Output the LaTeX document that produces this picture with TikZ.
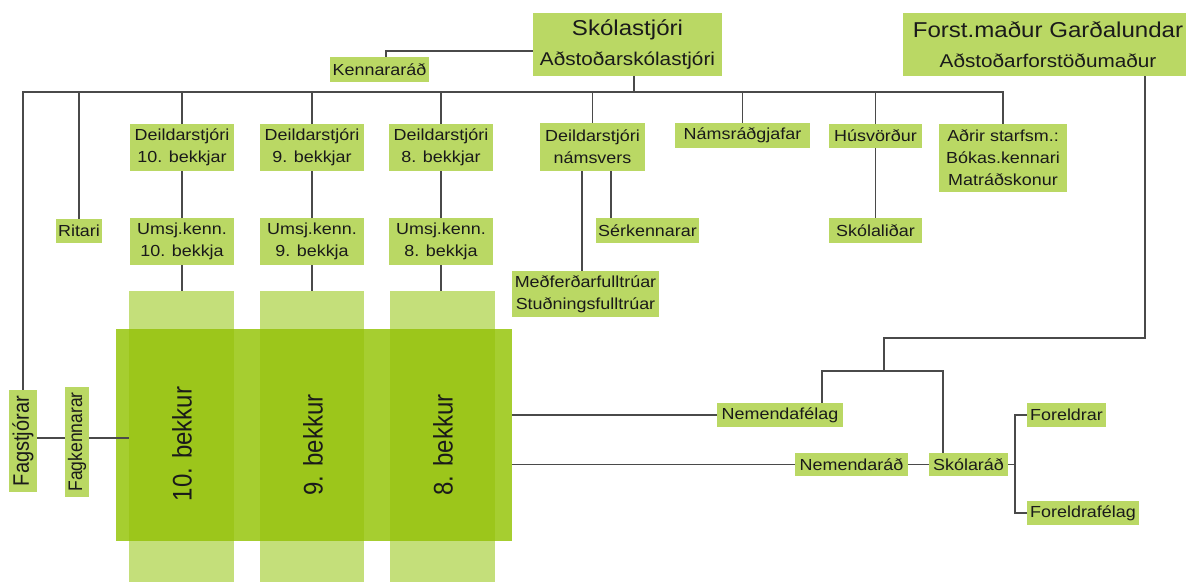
\documentclass[tikz,border=0pt]{standalone}
\usepackage{fontspec}
\setmainfont{Liberation Sans}[FakeStretch=1.12]
\newfontfamily\rotfont{Liberation Sans}
\usetikzlibrary{calc}
\definecolor{boxg}{HTML}{BAD864}
\definecolor{colg}{HTML}{C4DF7A}
\definecolor{darkg}{HTML}{A6CE30}
\definecolor{overg}{HTML}{9CC61B}
\definecolor{lin}{HTML}{4A4A4A}
\definecolor{txt}{HTML}{1A1A1A}
\begin{document}
\begin{tikzpicture}[x=1pt,y=-1pt,
  lbl/.style={fill=boxg, text=txt, inner sep=0pt, align=center, font=\fontsize{16}{22}\selectfont},
  big/.style={lbl, font=\fontsize{18.5}{30}\selectfont},
  rot/.style={fill=boxg, text=txt, inner sep=0pt, rotate=90},
  colbox/.style={fill=colg, inner sep=0pt, minimum width=105pt, minimum height=304pt},
  conn/.style={draw=lin, line width=1.6pt},
  grade/.style={text=txt, rotate=90, inner sep=0pt, font=\rotfont\fontsize{24}{24}\selectfont}]
\useasboundingbox (0,0) rectangle (1186,581);
\fill[white] (0,0) rectangle (1186,581);

% columns and grade block
\node[colbox] (col10) at (181.5,443) {};
\node[colbox, minimum width=104pt] (col9) at (312,443) {};
\node[colbox] (col8) at (442.5,443) {};
\node[fill=darkg, inner sep=0pt, minimum width=396pt, minimum height=212pt] (dark) at (314,435) {};
\foreach \c in {col10,col9,col8}
  \fill[overg] (\c.west |- dark.north) rectangle (\c.east |- dark.south);
\node[grade] (t10) at (182,444) {\scalebox{1}[1.12]{10. bekkur}};
\node[grade] (t9) at (313,445) {\scalebox{1}[1.12]{9. bekkur}};
\node[grade] (t8) at (443,445) {\scalebox{1}[1.12]{8. bekkur}};

% top
\node[big, minimum width=189pt, minimum height=63pt] (sk) at (627.5,44.5)
  {{\fontsize{21.5}{30}\selectfont Skólastjóri}\\Aðstoðarskólastjóri};
\node[big, minimum width=290pt, minimum height=63pt] (forst) at (1048,44.5)
  {{\fontsize{21.5}{30}\selectfont Forst.maður Garðalundar}\\Aðstoðarforstöðumaður};
\node[lbl, minimum width=99pt, minimum height=25pt] (kenn) at (379.5,69.5) {Kennararáð};

% second row
\node[lbl, minimum width=104pt, minimum height=47pt] (d10) at (182,147.5) {Deildarstjóri\\10. bekkjar};
\node[lbl, minimum width=104pt, minimum height=47pt] (d9) at (312,147.5) {Deildarstjóri\\9. bekkjar};
\node[lbl, minimum width=104pt, minimum height=47pt] (d8) at (441,147.5) {Deildarstjóri\\8. bekkjar};
\node[lbl, minimum width=105pt, minimum height=48pt] (dn) at (592.5,147) {Deildarstjóri\\námsvers};
\node[lbl, minimum width=135pt, minimum height=25pt] (nams) at (742.5,135.5) {Námsráðgjafar};
\node[lbl, minimum width=93pt, minimum height=24pt] (hus) at (875.5,136) {Húsvörður};
\node[lbl, minimum width=128pt, minimum height=68pt] (adrir) at (1003,158) {Aðrir starfsm.:\\Bókas.kennari\\Matráðskonur};

% third row
\node[lbl, minimum width=46pt, minimum height=24pt] (ritari) at (79,231) {Ritari};
\node[lbl, minimum width=104pt, minimum height=47pt] (u10) at (182,241.5) {Umsj.kenn.\\10. bekkja};
\node[lbl, minimum width=104pt, minimum height=47pt] (u9) at (312,241.5) {Umsj.kenn.\\9. bekkja};
\node[lbl, minimum width=104pt, minimum height=47pt] (u8) at (441,241.5) {Umsj.kenn.\\8. bekkja};
\node[lbl, minimum width=103pt, minimum height=25pt] (serk) at (647.5,230.5) {Sérkennarar};
\node[lbl, minimum width=93pt, minimum height=25pt] (skolal) at (875.5,230.5) {Skólaliðar};
\node[lbl, minimum width=147pt, minimum height=46pt] (medf) at (585.5,294) {Meðferðarfulltrúar\\Stuðningsfulltrúar};

% left rotated
\node[rot, minimum width=102pt, minimum height=28pt, font=\rotfont\fontsize{20}{20}\selectfont] (fagstj) at (23,441) {\scalebox{1}[1.12]{Fagstjórar}};
\node[rot, minimum width=110pt, minimum height=24pt, font=\rotfont\fontsize{17.5}{17.5}\selectfont] (fagk) at (77,442) {\scalebox{1}[1.12]{Fagkennarar}};

% right bottom
\node[lbl, minimum width=126pt, minimum height=24pt] (nemfel) at (780,415) {Nemendafélag};
\node[lbl, minimum width=113pt, minimum height=23pt] (nemrad) at (851.5,464.5) {Nemendaráð};
\node[lbl, minimum width=79pt, minimum height=23pt] (skolarad) at (968.5,464.5) {Skólaráð};
\node[lbl, minimum width=79pt, minimum height=24pt] (foreldrar) at (1066.5,415) {Foreldrar};
\node[lbl, minimum width=112pt, minimum height=24pt] (forfel) at (1083,513) {Foreldrafélag};

% helper coordinates
\coordinate (bus) at (0,92);
\coordinate (xs) at (611,0);
\coordinate (xm) at (582,0);
\coordinate (j1) at (1145,338);
\coordinate (j2) at (884,371);
\coordinate (xa) at (822,0);
\coordinate (xb) at (943,0);
\coordinate (xf) at (1015,0);
\coordinate (hl) at (0,438);

% connectors
\draw[conn] ([yshift=-6.5pt]sk.west) -| ([xshift=6.5pt]kenn.north);
\draw[conn] ([xshift=6.5pt]sk.south) -- ([xshift=6.5pt]sk.south |- bus);
\draw[conn] (fagstj.east) |- (adrir.north |- bus) -- (adrir.north);
\foreach \n in {ritari,d10,d9,d8,dn,nams,hus}
  \draw[conn] (\n.north) -- (\n.north |- bus);
\foreach \a/\b in {d10/u10,d9/u9,d8/u8,hus/skolal,u10/col10,u9/col9,u8/col8}
  \draw[conn] (\a.south) -- (\a.south |- \b.north);
\draw[conn] (dn.south -| xs) -- (serk.north -| xs);
\draw[conn] (dn.south -| xm) -- (medf.north -| xm);
\draw[conn] (forst.south -| j1) -- (j1) -| (j2);
\draw[conn] (nemfel.north -| xa) |- (j2) -| (skolarad.north -| xb);
\draw[conn] (dark.east |- nemfel.west) -- (nemfel.west);
\draw[conn] (dark.east |- nemrad.west) -- (nemrad.west);
\draw[conn] (nemrad.east) -- (skolarad.west);
\draw[conn] (skolarad.east) -- (skolarad.east -| xf);
\draw[conn] (foreldrar.west) -| (xf |- forfel.west) -- (forfel.west);
\draw[conn] (fagstj.south |- hl) -- (fagk.north |- hl);
\draw[conn] (fagk.south |- hl) -- (col10.west |- hl);
\end{tikzpicture}
\end{document}
